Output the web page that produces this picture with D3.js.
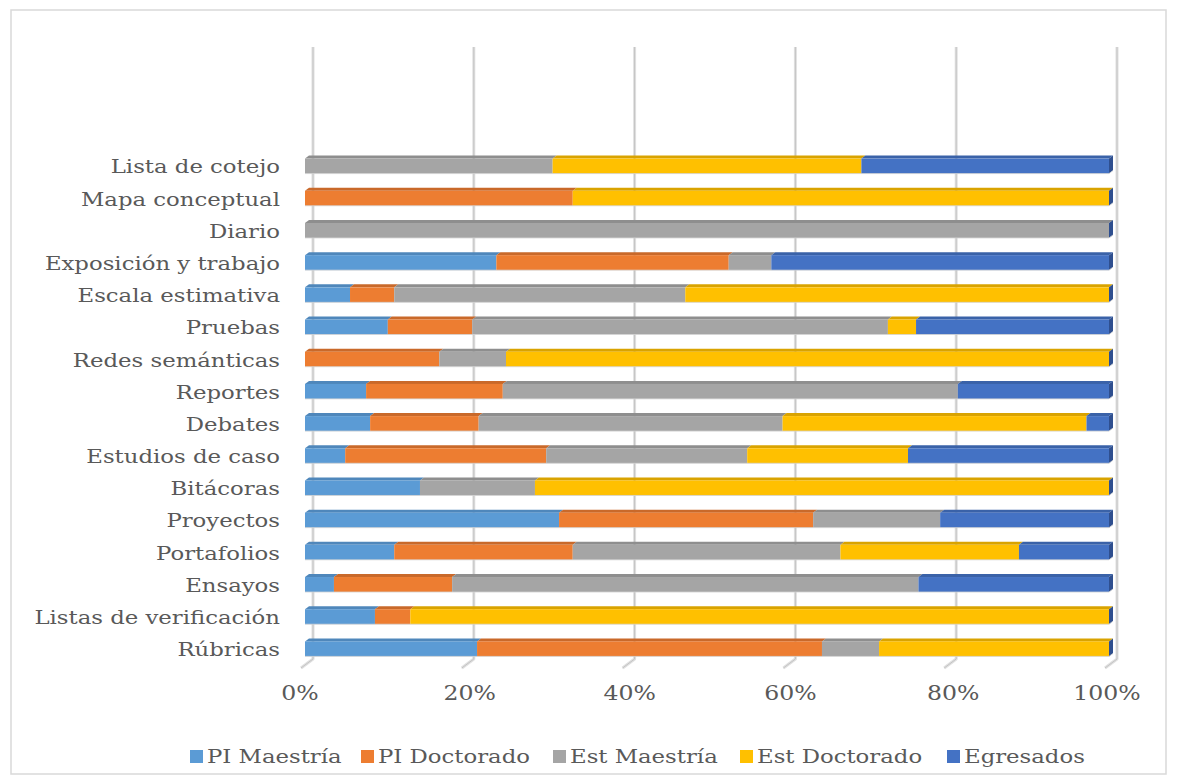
<!DOCTYPE html>
<html>
<head>
<meta charset="utf-8">
<script src="https://cdn.jsdelivr.net/npm/d3@7"></script>
<style>
  html, body { margin: 0; padding: 0; background: #fff; }
  svg { display: block; }
  text { font-family: "DejaVu Serif", "Liberation Serif", serif; fill: #595959; }
</style>
</head>
<body>
<svg id="chart" width="1177" height="783"></svg>
<script>
// ---- data (bottom to top, as in the source chart) ----
const categories = ["Rúbricas", "Listas de verificación", "Ensayos", "Portafolios", "Proyectos",
  "Bitácoras", "Estudios de caso", "Debates", "Reportes", "Redes semánticas", "Pruebas",
  "Escala estimativa", "Exposición y trabajo", "Diario", "Mapa conceptual", "Lista de cotejo"];
const seriesNames = ["PI Maestría", "PI Doctorado", "Est Maestría", "Est Doctorado", "Egresados"];
const piMaestria   = [21.4, 8.7, 3.6, 11.1, 31.6, 14.3, 5.0, 8.1, 7.6, 0, 10.3, 5.6, 23.8, 0, 0, 0];
const piDoctorado  = [42.9, 4.4, 14.7, 22.2, 31.6, 0, 25.0, 13.5, 17.0, 16.7, 10.5, 5.5, 28.9, 0, 33.3, 0];
const estMaestria  = [7.1, 0, 58.0, 33.3, 15.8, 14.3, 25.0, 37.8, 56.6, 8.3, 51.7, 36.2, 5.3, 100, 0, 30.8];
const estDoctorado = [28.6, 86.9, 0, 22.2, 0, 71.4, 20.0, 37.8, 0, 75.0, 3.5, 52.7, 0, 0, 66.7, 38.4];
const egresados    = [0, 0, 23.7, 11.2, 21.0, 0, 25.0, 2.8, 18.8, 0, 24.0, 0, 42.0, 0, 0, 30.8];
const tickValues = [0, 0.2, 0.4, 0.6, 0.8, 1];
const tickLabels = ["0%", "20%", "40%", "60%", "80%", "100%"];

const colors = ["#5b9bd5", "#ed7d31", "#a5a5a5", "#ffc000", "#4472c4"];
const topColors = ["#4f87bb", "#c9692a", "#8e8e8e", "#d9a300", "#3a62a8"];
const sideColor = "#2f4f8f";

const rows = categories.map((c, i) => ({
  cat: c,
  "PI Maestría": piMaestria[i], "PI Doctorado": piDoctorado[i],
  "Est Maestría": estMaestria[i], "Est Doctorado": estDoctorado[i], "Egresados": egresados[i]
}));
const stacked = d3.stack().keys(seriesNames).offset(d3.stackOffsetExpand)(rows);

const svg = d3.select("#chart");
const STRETCH = 1.2; // wide serif look

// outer border
svg.append("rect").attr("x", 11).attr("y", 10).attr("width", 1155).attr("height", 764)
  .attr("fill", "none").attr("stroke", "#d9d9d9").attr("stroke-width", 1.5);

// scales (front plane)
const x = d3.scaleLinear().domain([0, 1]).range([301, 1105]);
const y = d3.scaleBand().domain(categories.slice().reverse()).range([153, 668])
  .paddingInner(0.534).paddingOuter(0.267);

// 3D offsets
const barDX = 4, barDY = 3;
const depthDX = 4, depthDY = 3;
const wallDX = 12, wallDY = 9;
const wallTop = 47;

// gridlines on back wall + floor diagonals
const grid = svg.append("g");
tickValues.forEach(v => {
  const xw = x(v) + wallDX;
  const yb = 668 - wallDY;
  const p = d3.path();
  p.moveTo(xw, wallTop); p.lineTo(xw, yb); p.lineTo(x(v), 668);
  grid.append("path").attr("d", p.toString()).attr("fill", "none")
    .attr("stroke", "#e0e0e0").attr("stroke-width", 3).attr("stroke-linejoin", "round");
  grid.append("path").attr("d", p.toString()).attr("fill", "none")
    .attr("stroke", "#c4c4c4").attr("stroke-width", 1);
});

// tick labels
const tickNudge = [-1, 8, 7, 7, 9, 2];
svg.append("g").selectAll("text").data(tickValues).join("text")
  .attr("transform", (d, i) => `translate(${x(d) + tickNudge[i]},693) scale(1.18,1)`)
  .attr("text-anchor", "middle").attr("dominant-baseline", "central")
  .attr("font-size", 20).text((d, i) => tickLabels[i]);

// category labels
svg.append("g").selectAll("text").data(categories).join("text")
  .attr("transform", d => `translate(280,${y(d) + y.bandwidth() / 2 - 2}) scale(${STRETCH},1)`)
  .attr("text-anchor", "end").attr("dominant-baseline", "central")
  .attr("font-size", 19).text(d => d);

// bars
const bars = svg.append("g");
const bh = y.bandwidth();
categories.forEach((cat, ci) => {
  const g = bars.append("g");
  const y0 = y(cat) - barDY;
  stacked.forEach((s, si) => {
    const d = s[ci];
    const x0 = x(d[0]) + barDX, x1 = x(d[1]) + barDX;
    if (x1 - x0 <= 0) return;
    g.append("path")
      .attr("d", `M${x0},${y0}L${x1},${y0}L${x1 + depthDX},${y0 - depthDY}L${x0 + depthDX},${y0 - depthDY}Z`)
      .attr("fill", topColors[si]);
  });
  stacked.forEach((s, si) => {
    const d = s[ci];
    const x0 = x(d[0]) + barDX, x1 = x(d[1]) + barDX;
    if (x1 - x0 <= 0) return;
    g.append("rect").attr("x", x0).attr("y", y0).attr("width", x1 - x0).attr("height", bh)
      .attr("fill", colors[si]);
  });
  const xr = x(1) + barDX;
  g.append("path")
    .attr("d", `M${xr},${y0}L${xr + depthDX},${y0 - depthDY}L${xr + depthDX},${y0 + bh - depthDY}L${xr},${y0 + bh}Z`)
    .attr("fill", sideColor);
  g.append("path")
    .attr("d", `M${x(0) + barDX},${y0 + bh}L${xr},${y0 + bh}L${xr + depthDX},${y0 + bh - depthDY}`)
    .attr("fill", "none").attr("stroke", "#d4d4d4").attr("stroke-width", 1).attr("opacity", 0.8);
});

// legend
const legendX = [190, 361, 553, 740, 947];
const lg = svg.append("g");
seriesNames.forEach((n, i) => {
  lg.append("rect").attr("x", legendX[i]).attr("y", 750).attr("width", 13).attr("height", 13)
    .attr("fill", colors[i]);
  lg.append("text")
    .attr("transform", `translate(${legendX[i] + 17},757) scale(${STRETCH},1)`)
    .attr("dominant-baseline", "central")
    .attr("font-size", 19).text(n);
});
</script>
</body>
</html>
